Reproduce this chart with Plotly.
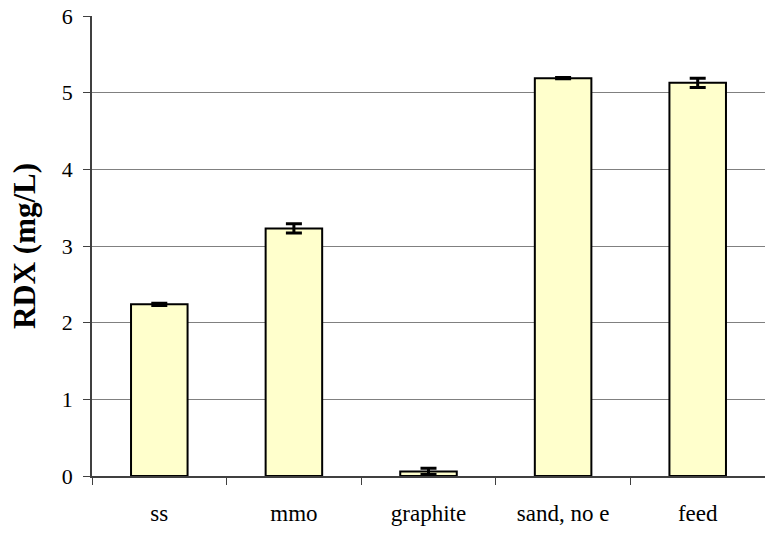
import plotly.graph_objects as go

categories = ["ss", "mmo", "graphite", "sand, no e", "feed"]
rdx_values = [2.24, 3.23, 0.06, 5.19, 5.13]
rdx_errors = [0.015, 0.06, 0.04, 0.008, 0.06]
y_ticks = [0, 1, 2, 3, 4, 5, 6]

fig = go.Figure()
fig.add_trace(go.Bar(
    x=categories, y=rdx_values,
    marker=dict(color="#FFFFCC", line=dict(color="black", width=2)),
    error_y=dict(type="data", array=rdx_errors, visible=True,
                 color="black", thickness=3, width=8),
))

font_family = "Liberation Serif"
fig.update_layout(
    width=765, height=534,
    margin=dict(l=92, r=0, t=16, b=58, autoexpand=False),
    paper_bgcolor="white", plot_bgcolor="white",
    showlegend=False,
    bargap=0.58,
    font=dict(family=font_family, size=22, color="black"),
    xaxis=dict(
        type="category", automargin=False,
        showline=True, linecolor="#404040", linewidth=1.5,
        ticks="outside", tickson="boundaries", ticklen=7, tickcolor="#404040",
        showgrid=False,
        tickfont=dict(family=font_family, size=23),
        ticklabelstandoff=16,
    ),
    yaxis=dict(
        range=[0, 6.002], tickvals=y_ticks, automargin=False,
        showline=True, linecolor="#404040", linewidth=1.5,
        ticks="outside", ticklen=7, tickcolor="#404040",
        showgrid=True, gridcolor="#808080", gridwidth=1,
        zeroline=False,
        tickfont=dict(family=font_family, size=22),
        ticklabelstandoff=6,
        ticklabeloverflow="allow",
        title=dict(text="<b>RDX (mg/L)</b>", font=dict(family=font_family, size=31), standoff=17),
    ),
)

fig.write_html(
    "out.html",
    config={"displayModeBar": False},
    post_script="document.body.style.margin='0';document.body.style.overflow='hidden';",
)
